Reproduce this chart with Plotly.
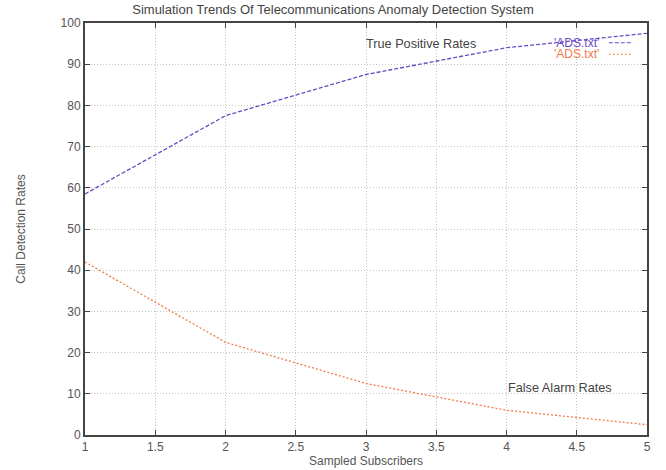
import plotly.graph_objects as go

subscribers = [1, 2, 3, 4, 5]
true_positive = [58.5, 77.5, 87.5, 94.0, 97.5]
false_alarm = [42.0, 22.5, 12.5, 6.0, 2.5]
series_names = ["'ADS.txt'", "'ADS.txt'"]
x_ticks = [1, 1.5, 2, 2.5, 3, 3.5, 4, 4.5, 5]
y_ticks = list(range(0, 101, 10))

purple = "#6a4cc4"
orange = "#f07a48"
gray = "#555555"
font = "Liberation Sans, Arial, sans-serif"

fig = go.Figure()
fig.add_trace(go.Scatter(x=subscribers, y=true_positive, mode="lines",
                         line=dict(color=purple, width=1.3, dash="4px,2px"),
                         name=series_names[0], showlegend=False))
fig.add_trace(go.Scatter(x=subscribers, y=false_alarm, mode="lines",
                         line=dict(color=orange, width=1.3, dash="2px,2px"),
                         name=series_names[1], showlegend=False))

axis_common = dict(showgrid=True, gridcolor="#c4c4c4", griddash="1px,2px", gridwidth=1,
                   showline=True, linecolor="#444444", linewidth=2, mirror="allticks",
                   ticks="inside", ticklen=5, tickcolor="#444444", tickwidth=1,
                   zeroline=False, automargin=False,
                   tickfont=dict(family=font, size=12, color=gray))

fig.update_xaxes(range=[1, 5], tickvals=x_ticks, ticktext=[f"{v:g}" for v in x_ticks],
                 title=dict(text="Sampled Subscribers", standoff=0,
                            font=dict(family=font, size=12, color=gray)),
                 **axis_common)
fig.update_yaxes(range=[0, 100], tickvals=y_ticks,
                 title=dict(text="Call Detection Rates", standoff=32,
                            font=dict(family=font, size=12, color=gray)),
                 **axis_common)

# in-plot labels
fig.add_annotation(x=3.39, y=95, text="True Positive Rates", showarrow=False,
                   font=dict(family=font, size=12.7, color="#444444"))
fig.add_annotation(x=4.38, y=11.4, text="False Alarm Rates", showarrow=False,
                   font=dict(family=font, size=12.7, color="#444444"))

# gnuplot-style key
for i, (name, col, dash) in enumerate([(series_names[0], purple, "4px,2px"),
                                       (series_names[1], orange, "2px,2px")]):
    yk = 0.952 - i * 0.028
    fig.add_annotation(xref="paper", yref="paper", x=0.916, y=yk, xanchor="right",
                       yanchor="middle", text=name, showarrow=False, borderpad=0,
                       font=dict(family=font, size=12, color=col))
    fig.add_shape(type="line", xref="paper", yref="paper", x0=0.932, x1=0.975,
                  y0=yk, y1=yk, line=dict(color=col, width=1, dash=dash))

fig.update_layout(
    width=666, height=470,
    margin=dict(l=85, r=19, t=23, b=35),
    paper_bgcolor="white", plot_bgcolor="white",
    title=dict(text="Simulation Trends Of Telecommunications Anomaly Detection System",
               x=0.5, xanchor="center", y=0.979, yanchor="middle",
               font=dict(family=font, size=13, color="#444444")),
)

fig.write_html("out.html", config={"displayModeBar": False},
               post_script="document.body.style.margin='0';document.body.style.overflow='hidden';")
